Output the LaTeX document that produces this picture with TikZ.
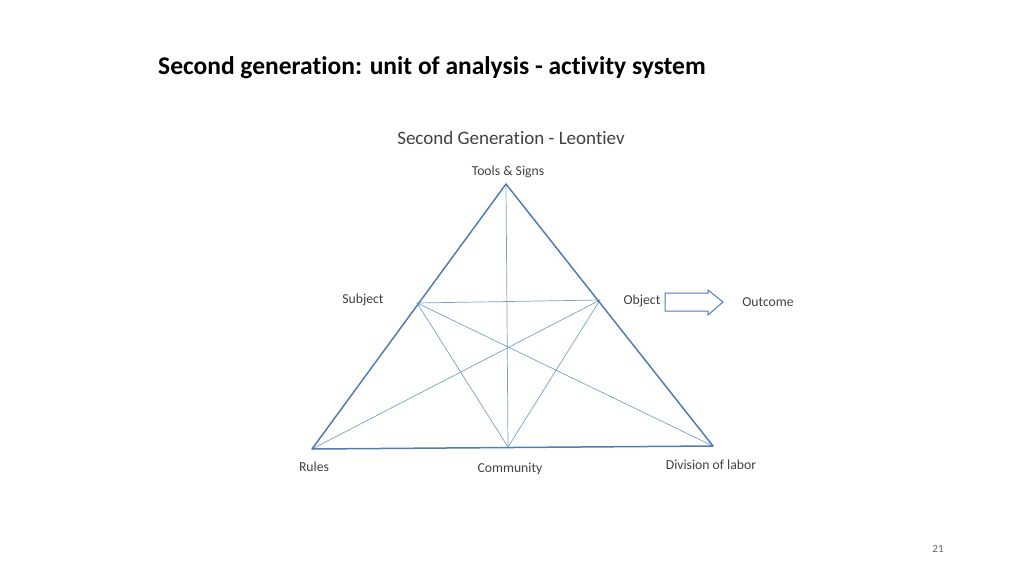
\documentclass[tikz,border=0pt]{standalone}
\usepackage{fontspec}
\setmainfont[Ligatures=NoCommon]{Carlito}
\definecolor{ln}{RGB}{80,125,180}
\definecolor{lt}{RGB}{120,160,205}
\begin{document}
\begin{tikzpicture}[x=1pt,y=-1pt,
  edge/.style={draw=lt, line width=0.7pt},
  tri/.style={draw=ln, line width=1.5pt, line join=round},
  lbl/.style={font=\fontsize{13.7}{15}\selectfont, text=black!75},
  pt/.style={inner sep=0pt, minimum size=0pt}]
\useasboundingbox (0,0) rectangle (1024,576);
\node[anchor=west, inner sep=0pt, font=\bfseries\fontsize{25.5}{28}\selectfont] (title) at (158,68) {Second generation: unit of analysis - activity system};
\node[font=\fontsize{19}{21}\selectfont, text=black!75] (sub) at (511,138) {Second Generation - Leontiev};
\coordinate (T) at (506,184);
\coordinate (S) at (417,303);
\coordinate (O) at (600,300);
\coordinate (R) at (312,449);
\coordinate (C) at (508,447);
\coordinate (D) at (713,446);
\draw[edge] (T) -- (C);
\draw[edge] (S) -- (O);
\draw[edge] (S) -- (D);
\draw[edge] (O) -- (R);
\draw[edge] (S) -- (C);
\draw[edge] (O) -- (C);
\draw[tri] (T) -- (R) -- (D) -- cycle;
\node[lbl] (lt) at (508,172) {Tools \& Signs};
\node[lbl] (ls) at (363,300) {Subject};
\node[lbl] (lo) at (642,301) {Object};
\node[lbl] (lout) at (768,302) {Outcome};
\node[lbl] (lr) at (314,467) {Rules};
\node[lbl] (lc) at (510,469) {Community};
\node[lbl] (ld) at (711,465) {Division of labor};
\draw[draw=ln, line width=1pt, fill=white] (665,293) -- (708,293) -- (708,290) -- (723,302) -- (708,315) -- (708,311) -- (665,311) -- cycle;
\node[font=\fontsize{11}{12}\selectfont, text=black!60] (pg) at (938,549) {21};
\end{tikzpicture}
\end{document}
